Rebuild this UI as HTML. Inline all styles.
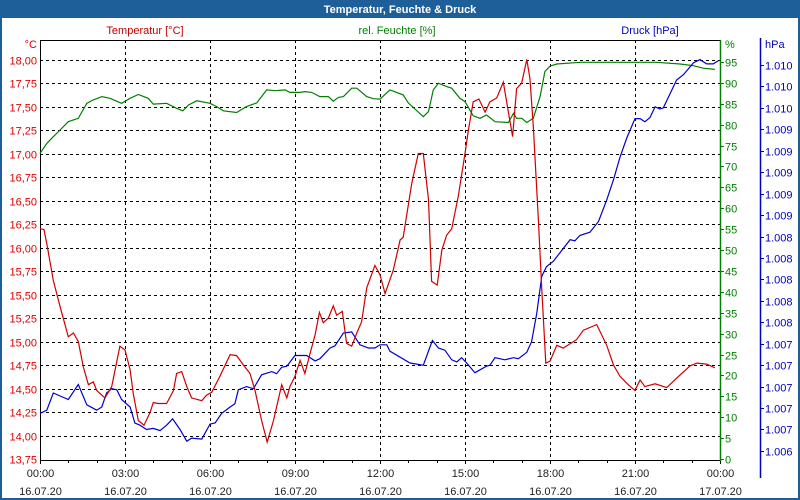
<!DOCTYPE html>
<html><head><meta charset="utf-8"><style>
html,body{margin:0;padding:0;background:#fff}
svg{display:block;font-family:"Liberation Sans","DejaVu Sans",sans-serif}
</style></head><body>
<svg id="chart" width="800" height="500" viewBox="0 0 800 500">
<rect x="0" y="0" width="800" height="500" fill="#fff"/>
<rect x="1" y="1" width="798" height="498" fill="none" stroke="#1f5f99" stroke-width="2"/>
<rect x="0" y="0" width="800" height="18" fill="#1f5f99"/>
<text x="400" y="13" text-anchor="middle" font-size="11" font-weight="bold" fill="#fff">Temperatur, Feuchte &amp; Druck</text>
<text x="145" y="34" text-anchor="middle" font-size="11" fill="#c00000">Temperatur [°C]</text>
<text x="397" y="34" text-anchor="middle" font-size="11" fill="#008000">rel. Feuchte [%]</text>
<text x="650" y="34" text-anchor="middle" font-size="11" fill="#0000c0">Druck [hPa]</text>
<g id="grid"></g>
<g id="axes"></g>
<g id="series"></g>
</svg>
<script>
const tempHours=[0,0.14,0.24,0.47,0.71,1.0,1.18,1.35,1.53,1.71,1.88,2.0,2.29,2.53,2.82,3.0,3.18,3.29,3.47,3.67,3.88,4.0,4.18,4.47,4.71,4.82,5.0,5.18,5.35,5.71,5.88,6.06,6.35,6.71,6.94,7.18,7.41,7.59,7.82,8.02,8.24,8.53,8.71,8.82,9.0,9.18,9.35,9.53,9.71,9.86,10.0,10.18,10.35,10.47,10.67,10.82,11.0,11.18,11.35,11.53,11.82,12.0,12.18,12.47,12.71,12.82,13.12,13.35,13.53,13.71,13.82,14.02,14.18,14.35,14.53,14.76,15.0,15.12,15.29,15.49,15.71,15.88,16.12,16.35,16.53,16.68,16.82,17.0,17.18,17.29,17.41,17.59,17.71,17.85,18.0,18.24,18.47,18.94,19.18,19.65,20.0,20.24,20.47,20.76,21.0,21.18,21.35,21.71,22.12,22.47,22.94,23.18,23.53,23.82];
const tempValues=[16.20,16.19,16.04,15.65,15.37,15.05,15.09,15.00,14.73,14.54,14.57,14.48,14.40,14.52,14.95,14.91,14.70,14.45,14.16,14.11,14.24,14.35,14.34,14.34,14.48,14.66,14.68,14.52,14.40,14.37,14.43,14.46,14.63,14.86,14.85,14.75,14.66,14.48,14.16,13.93,14.16,14.54,14.40,14.52,14.63,14.80,14.66,14.87,15.07,15.31,15.20,15.25,15.38,15.28,15.32,14.98,14.95,15.09,15.21,15.57,15.81,15.71,15.51,15.76,16.08,16.11,16.68,17.00,17.00,16.51,15.64,15.60,15.97,16.13,16.20,16.54,17.00,17.25,17.55,17.58,17.44,17.55,17.59,17.76,17.44,17.18,17.69,17.75,18.00,17.80,17.29,16.29,15.55,14.77,14.79,14.96,14.93,15.02,15.12,15.18,14.96,14.75,14.63,14.54,14.48,14.59,14.52,14.55,14.51,14.61,14.74,14.77,14.76,14.72];
const humHours=[0,0.24,0.47,0.71,1.0,1.35,1.65,1.88,2.18,2.47,2.88,3.18,3.47,3.82,4.0,4.47,4.82,5.04,5.24,5.53,6.0,6.24,6.47,6.94,7.29,7.65,8.0,8.29,8.65,8.82,9.18,9.35,9.59,9.88,10.18,10.35,10.53,10.71,11.0,11.18,11.53,11.76,12.0,12.35,12.82,13.0,13.53,13.71,13.88,14.06,14.35,14.53,14.82,15.0,15.29,15.53,15.76,16.06,16.53,16.71,16.82,17.0,17.18,17.41,17.65,17.82,18.0,18.24,19.06,20.24,21.76,22.59,23.06,23.41,23.82];
const humValues=[73.1,75.5,77.1,78.7,80.7,81.5,85.1,85.9,86.7,86.3,85.1,86.3,87.2,86.3,84.9,85.1,83.9,83.3,84.7,85.7,85.1,84.3,83.3,82.9,84.3,85.2,88.3,88.1,88.3,87.7,87.7,87.9,87.7,86.7,86.7,85.6,86.5,86.7,88.7,88.7,86.7,86.2,86.1,88.3,87.1,85.2,81.9,83.1,88.3,89.9,89.1,88.7,86.3,85.5,82.1,81.5,82.3,80.7,80.5,82.7,81.5,81.5,80.5,81.5,86.7,92.7,94.0,94.5,94.9,94.9,94.9,94.5,94.1,93.5,93.2];
const presHours=[0,0.24,0.47,1.0,1.35,1.65,2.0,2.18,2.35,2.53,2.71,2.88,3.18,3.35,3.53,3.76,4.0,4.24,4.47,4.68,4.94,5.18,5.35,5.71,6.0,6.18,6.41,6.71,6.88,7.0,7.29,7.53,7.82,8.18,8.35,8.53,8.71,9.0,9.41,9.71,9.88,10.24,10.41,10.71,11.0,11.29,11.59,11.82,12.0,12.24,12.35,13.06,13.53,13.85,14.06,14.29,14.53,14.71,14.88,15.06,15.35,15.76,15.88,16.06,16.41,16.71,16.88,17.18,17.35,17.53,17.71,17.88,18.12,18.71,18.88,19.06,19.41,19.71,20.0,20.24,20.47,20.71,21.0,21.18,21.35,21.53,21.71,21.88,22.0,22.47,22.71,23.06,23.29,23.53,23.76,23.94];
const presValues=[1006.75,1006.78,1006.94,1006.88,1007.02,1006.83,1006.78,1006.81,1006.94,1006.98,1006.97,1006.88,1006.81,1006.66,1006.64,1006.60,1006.61,1006.59,1006.64,1006.70,1006.60,1006.49,1006.52,1006.51,1006.65,1006.66,1006.75,1006.81,1006.84,1006.97,1007.00,1006.98,1007.11,1007.14,1007.12,1007.18,1007.19,1007.29,1007.29,1007.24,1007.26,1007.36,1007.38,1007.50,1007.51,1007.39,1007.36,1007.36,1007.39,1007.39,1007.33,1007.22,1007.20,1007.43,1007.36,1007.34,1007.25,1007.23,1007.27,1007.22,1007.13,1007.19,1007.20,1007.27,1007.25,1007.27,1007.26,1007.32,1007.42,1007.68,1008.03,1008.12,1008.17,1008.37,1008.36,1008.41,1008.44,1008.54,1008.74,1008.93,1009.14,1009.32,1009.50,1009.50,1009.47,1009.51,1009.61,1009.59,1009.60,1009.86,1009.91,1010.02,1010.05,1010.01,1010.01,1010.04];
const tempTicks=[18.00,17.75,17.50,17.25,17.00,16.75,16.50,16.25,16.00,15.75,15.50,15.25,15.00,14.75,14.50,14.25,14.00,13.75];
const humTicks=[95,90,85,80,75,70,65,60,55,50,45,40,35,30,25,20,15,10,5,0];
const presTicks=[1010.0,1009.8,1009.6,1009.4,1009.2,1009.0,1008.8,1008.6,1008.4,1008.2,1008.0,1007.8,1007.6,1007.4,1007.2,1007.0,1006.8,1006.6,1006.4];
const timeTicks=["00:00","03:00","06:00","09:00","12:00","15:00","18:00","21:00","00:00"];
const dateTicks=["16.07.20","16.07.20","16.07.20","16.07.20","16.07.20","16.07.20","16.07.20","16.07.20","17.07.20"];

const L=40,R=720,T=40,B=460;
const xS=h=>L+h*(R-L)/24;
const yT=v=>59.5+(18-v)*94;
const yH=v=>459-v*4.18;
const yP=v=>65+(1010-v)*107.2;
const NS="http://www.w3.org/2000/svg";
function mk(tag,attrs,parent){const e=document.createElementNS(NS,tag);for(const k in attrs)e.setAttribute(k,attrs[k]);parent.appendChild(e);return e;}
const grid=document.getElementById('grid'),axes=document.getElementById('axes'),series=document.getElementById('series');

tempTicks.forEach((v,i)=>{
  const y=Math.round(yT(v))+0.5;
  if(i<tempTicks.length-1){const g=mk('line',{x1:L,x2:R,y1:y,y2:y,stroke:'#000','stroke-dasharray':'3,3'},grid);
  
  }
  const t=mk('text',{x:37,y:y+4,'text-anchor':'end','font-size':'11',fill:'#e00000'},axes);t.textContent=v.toFixed(2).replace('.',',');
  
  
});
timeTicks.forEach((s,i)=>{
  const x=Math.round(xS(i*3))+0.5;
  if(i>0&&i<8){const g=mk('line',{x1:x,x2:x,y1:T,y2:B,stroke:'#000','stroke-dasharray':'3,3'},grid);
  
  }
  const t=mk('text',{x:x,y:477,'text-anchor':'middle','font-size':'11',fill:'#222'},axes);t.textContent=s;
  
  
  const d=mk('text',{x:x,y:495,'text-anchor':'middle','font-size':'11',fill:'#222'},axes);d.textContent=dateTicks[i];
  
  
});
for(let h=0;h<=24;h++){const x=Math.round(xS(h))+0.5;const k=mk('line',{x1:x,x2:x,y1:B,y2:B+(h%3===0?4:3),stroke:'#000'},axes);
  
  }
// frame
const f1=mk('line',{x1:L+0.5,x2:L+0.5,y1:T,y2:B+1,stroke:'#000'},axes);


const f2=mk('line',{x1:L,x2:R,y1:T+0.5,y2:T+0.5,stroke:'#000'},axes);


const f3=mk('line',{x1:L,x2:R,y1:B+0.5,y2:B+0.5,stroke:'#000'},axes);


const f4=mk('line',{x1:R+0.5,x2:R+0.5,y1:T,y2:B+1,stroke:'#008000',
 'stroke-width':1.5},axes);


const f5=mk('line',{x1:760.5,x2:760.5,y1:T-2,y2:478,stroke:'#0000c0','stroke-width':1.5},axes);


const u1=mk('text',{x:37,y:48,'text-anchor':'end','font-size':'11',fill:'#e00000'},axes);u1.textContent='°C';


const u2=mk('text',{x:725,y:48,'font-size':'11',fill:'#008000'},axes);u2.textContent='%';


const u3=mk('text',{x:765,y:48,'font-size':'11',fill:'#0000c0'},axes);u3.textContent='hPa';


humTicks.forEach(v=>{
  const y=Math.round(yH(v))+0.5;
  const k=mk('line',{x1:R,x2:R+4,y1:y,y2:y,stroke:'#008000'},axes);
  
  
  const t=mk('text',{x:725,y:y+4,'font-size':'11',fill:'#008000'},axes);t.textContent=v;
  
  
});
presTicks.forEach(v=>{
  const y=Math.round(yP(v))+0.5;
  const k=mk('line',{x1:760,x2:764,y1:y,y2:y,stroke:'#0000c0'},axes);
  
  
  const t=mk('text',{x:765,y:y+4,'font-size':'11',fill:'#0000c0'},axes);t.textContent=(Math.round(v)/1000).toFixed(3);
  
  
});
function line(hs,vs,ys,color){return hs.map((h,i)=>xS(h).toFixed(1)+','+ys(vs[i]).toFixed(1)).join(' ');}
const pH=mk('polyline',{points:line(humHours,humValues,yH),fill:'none',stroke:'#008000','stroke-width':1.2},series);


const pP=mk('polyline',{points:line(presHours,presValues,yP),fill:'none',stroke:'#0000d0','stroke-width':1.2},series);


const pT=mk('polyline',{points:line(tempHours,tempValues,yT),fill:'none',stroke:'#d00000','stroke-width':1.2},series);


</script>
</body></html>
